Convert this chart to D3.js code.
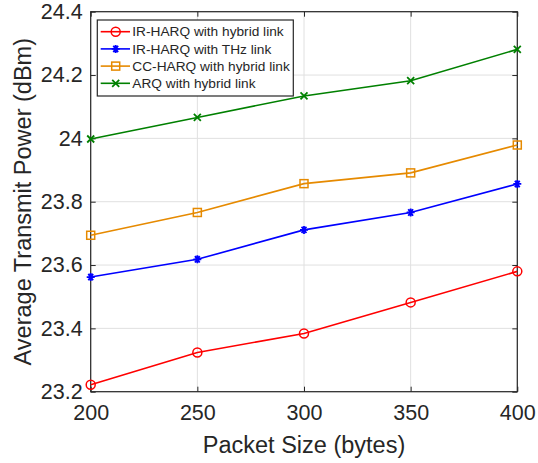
<!DOCTYPE html>
<html>
<head>
<meta charset="utf-8">
<script src="https://cdn.jsdelivr.net/npm/d3@7"></script>
<style>
  body { margin: 0; background: #fff; }
  #chart { width: 538px; height: 463px; }
  text { font-family: "Liberation Sans", Arial, Helvetica, sans-serif; }
</style>
</head>
<body>
<div id="chart"></div>
<script>
// 数据
var packetSizes = [200, 250, 300, 350, 400];
var yTicks = [23.2, 23.4, 23.6, 23.8, 24, 24.2, 24.4];
var seriesNames = ["IR-HARQ with hybrid link", "IR-HARQ with THz link", "CC-HARQ with hybrid link", "ARQ with hybrid link"];
var irHybrid = [23.222, 23.324, 23.384, 23.482, 23.580];
var irThz = [23.562, 23.618, 23.711, 23.766, 23.856];
var ccHybrid = [23.694, 23.766, 23.857, 23.891, 23.979];
var arqHybrid = [23.998, 24.066, 24.134, 24.182, 24.281];

var seriesColors = ["#ff0000", "#0000ff", "#e68a00", "#008000"];
var seriesMarkers = ["circle", "asterisk", "square", "cross"];
var allSeries = [irHybrid, irThz, ccHybrid, arqHybrid];

var margin = { top: 11.7, right: 20.7, bottom: 71.3, left: 90.7 };
var width = 538, height = 463;
var plotWidth = width - margin.left - margin.right;
var plotHeight = height - margin.top - margin.bottom;
var ink = "#262626";

var svg = d3.select("#chart").append("svg")
  .attr("width", width)
  .attr("height", height);

var plot = svg.append("g")
  .attr("transform", `translate(${margin.left}, ${margin.top})`);

var xScale = d3.scaleLinear().domain([200, 400]).range([0, plotWidth]);
var yScale = d3.scaleLinear().domain([23.2, 24.4]).range([plotHeight, 0]);

// 网格
plot.append("g").selectAll("line")
  .data(packetSizes)
  .join("line")
  .attr("x1", d => xScale(d)).attr("x2", d => xScale(d))
  .attr("y1", 0).attr("y2", plotHeight)
  .attr("stroke", "#e0e0e0").attr("stroke-width", 1);
plot.append("g").selectAll("line")
  .data(yTicks)
  .join("line")
  .attr("y1", d => yScale(d)).attr("y2", d => yScale(d))
  .attr("x1", 0).attr("x2", plotWidth)
  .attr("stroke", "#e0e0e0").attr("stroke-width", 1);

// 坐标轴 (刻度朝内, 四边)
var tickLen = 5;
function styleAxis(g) {
  g.select(".domain").remove();
  g.selectAll(".tick line").attr("stroke", ink).attr("stroke-width", 1);
  g.selectAll(".tick text").attr("fill", ink).attr("font-size", "21.5px");
}
plot.append("g")
  .attr("transform", `translate(0, ${plotHeight})`)
  .call(d3.axisBottom(xScale).tickValues(packetSizes).tickSize(-tickLen).tickPadding(8 + tickLen))
  .call(styleAxis);
plot.append("g")
  .call(d3.axisTop(xScale).tickValues(packetSizes).tickSize(-tickLen).tickFormat(""))
  .call(styleAxis);
plot.append("g")
  .call(d3.axisLeft(yScale).tickValues(yTicks).tickSize(-tickLen).tickPadding(3 + tickLen).tickFormat(d3.format("~g")))
  .call(styleAxis);
plot.append("g")
  .attr("transform", `translate(${plotWidth}, 0)`)
  .call(d3.axisRight(yScale).tickValues(yTicks).tickSize(-tickLen).tickFormat(""))
  .call(styleAxis);

plot.append("rect")
  .attr("x", 0).attr("y", 0)
  .attr("width", plotWidth).attr("height", plotHeight)
  .attr("fill", "none").attr("stroke", ink).attr("stroke-width", 1.2);

// 标记
function drawMarker(g, type, color) {
  if (type == "circle") {
    g.append("circle").attr("r", 4.5).attr("fill", "none").attr("stroke", color).attr("stroke-width", 1.5);
  } else if (type == "square") {
    g.append("rect").attr("x", -4).attr("y", -4).attr("width", 8).attr("height", 8)
      .attr("fill", "none").attr("stroke", color).attr("stroke-width", 1.5);
  } else if (type == "asterisk") {
    var s = 4;
    g.append("path")
      .attr("d", `M${-s},0L${s},0M${-s * 0.6},${-s * 0.8}L${s * 0.6},${s * 0.8}M${-s * 0.6},${s * 0.8}L${s * 0.6},${-s * 0.8}M0,${-s}L0,${s}`)
      .attr("stroke", color).attr("stroke-width", 1.8);
  } else {
    var c = 3.5;
    g.append("path")
      .attr("d", `M${-c},${-c}L${c},${c}M${-c},${c}L${c},${-c}`)
      .attr("stroke", color).attr("stroke-width", 1.8);
  }
}

var line = d3.line()
  .x((d, i) => xScale(packetSizes[i]))
  .y(d => yScale(d));

allSeries.forEach(function (vals, k) {
  plot.append("path")
    .datum(vals)
    .attr("d", line)
    .attr("fill", "none")
    .attr("stroke", seriesColors[k])
    .attr("stroke-width", 1.6);
  vals.forEach(function (v, i) {
    var mg = plot.append("g")
      .attr("transform", `translate(${xScale(packetSizes[i])}, ${yScale(v)})`);
    drawMarker(mg, seriesMarkers[k], seriesColors[k]);
  });
});

// 轴标签
svg.append("text")
  .attr("x", margin.left + plotWidth / 2)
  .attr("y", 453)
  .attr("text-anchor", "middle")
  .attr("fill", ink)
  .attr("font-size", "23.5px")
  .text("Packet Size (bytes)");
svg.append("text")
  .attr("transform", `translate(31, ${margin.top + plotHeight / 2}) rotate(-90)`)
  .attr("text-anchor", "middle")
  .attr("fill", ink)
  .attr("font-size", "23.5px")
  .text("Average Transmit Power (dBm)");

// 图例
var legend = svg.append("g").attr("transform", "translate(97.3, 20)");
legend.append("rect")
  .attr("width", 196).attr("height", 76)
  .attr("fill", "#fff").attr("stroke", ink).attr("stroke-width", 1.2);
seriesNames.forEach(function (name, k) {
  var yy = 11.7 + k * 17.2;
  legend.append("line")
    .attr("x1", 3.4).attr("x2", 32.7).attr("y1", yy).attr("y2", yy)
    .attr("stroke", seriesColors[k]).attr("stroke-width", 1.6);
  var mg = legend.append("g").attr("transform", `translate(18.4, ${yy})`);
  drawMarker(mg, seriesMarkers[k], seriesColors[k]);
  legend.append("text")
    .attr("x", 35).attr("y", yy)
    .attr("dy", "0.35em")
    .attr("fill", ink)
    .attr("font-size", "13.7px")
    .text(name);
});
</script>
</body>
</html>
